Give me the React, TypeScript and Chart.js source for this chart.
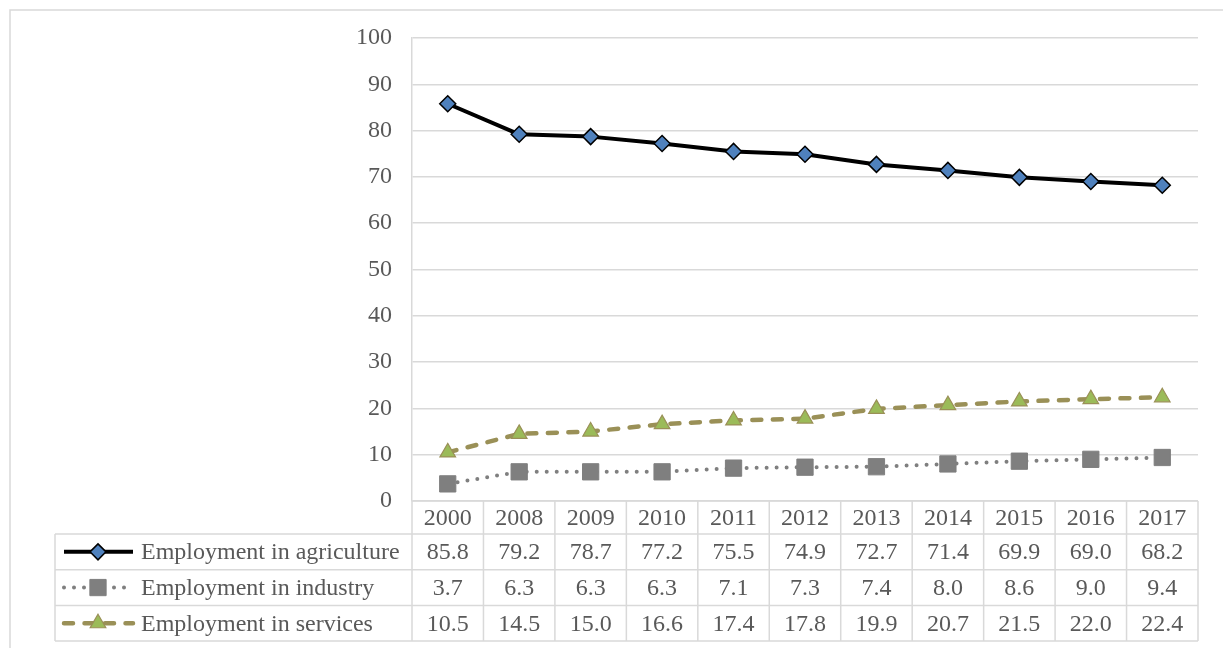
import React, { useEffect, useRef } from 'react';
import { Chart, registerables } from 'chart.js';

Chart.register(...registerables);

const years = ['2000', '2008', '2009', '2010', '2011', '2012', '2013', '2014', '2015', '2016', '2017'];
const agriculture = [85.8, 79.2, 78.7, 77.2, 75.5, 74.9, 72.7, 71.4, 69.9, 69.0, 68.2];
const industry = [3.7, 6.3, 6.3, 6.3, 7.1, 7.3, 7.4, 8.0, 8.6, 9.0, 9.4];
const services = [10.5, 14.5, 15.0, 16.6, 17.4, 17.8, 19.9, 20.7, 21.5, 22.0, 22.4];
const seriesNames = ['Employment in agriculture', 'Employment in industry', 'Employment in services'];
const yMin = 0;
const yMax = 100;
const yStep = 10;

const FONT_FAMILY = '"Liberation Serif", "Times New Roman", serif';
const FONT_SIZE = 24;
const TEXT_COLOR = '#595959';
const GRID_COLOR = '#D9D9D9';

function drawMarker(ctx: CanvasRenderingContext2D, style: string, x: number, y: number, r: number, fill: string, stroke: string, bw: number) {
  ctx.save();
  ctx.setLineDash([]);
  ctx.beginPath();
  if (style === 'rectRot') {
    ctx.moveTo(x, y - r);
    ctx.lineTo(x + r, y);
    ctx.lineTo(x, y + r);
    ctx.lineTo(x - r, y);
    ctx.closePath();
  } else if (style === 'rect') {
    const s = Math.SQRT1_2 * r;
    ctx.rect(x - s, y - s, 2 * s, 2 * s);
  } else if (style === 'triangle') {
    let rad = 0;
    ctx.moveTo(x + Math.sin(rad) * r, y - Math.cos(rad) * r);
    rad += (2 * Math.PI) / 3;
    ctx.lineTo(x + Math.sin(rad) * r, y - Math.cos(rad) * r);
    rad += (2 * Math.PI) / 3;
    ctx.lineTo(x + Math.sin(rad) * r, y - Math.cos(rad) * r);
    ctx.closePath();
  }
  ctx.fillStyle = fill;
  ctx.fill();
  ctx.lineWidth = bw;
  ctx.strokeStyle = stroke;
  ctx.stroke();
  ctx.restore();
}

const framePlugin = {
  id: 'frame',
  beforeDraw(chart: any) {
    const ctx = chart.ctx as CanvasRenderingContext2D;
    ctx.save();
    ctx.fillStyle = '#ffffff';
    ctx.fillRect(0, 0, chart.width, chart.height);
    ctx.strokeStyle = GRID_COLOR;
    ctx.lineWidth = 1.5;
    ctx.strokeRect(10, 10, chart.width + 20, chart.height + 20);
    ctx.restore();
  },
};

const tablePlugin = {
  id: 'dataTable',
  afterDraw(chart: any) {
    const ctx = chart.ctx as CanvasRenderingContext2D;
    const area = chart.chartArea;
    const xs = chart.scales.x;
    const n = years.length;
    const step = (area.right - area.left) / n;
    const top = area.bottom;
    const headerH = 33;
    const rowH = 35.7;
    const legendLeft = 55;
    const bottom = top + headerH + rowH * seriesNames.length;
    const rows: number[][] = [agriculture, industry, services];

    ctx.save();
    ctx.strokeStyle = GRID_COLOR;
    ctx.lineWidth = 1.5;
    ctx.setLineDash([]);
    ctx.beginPath();
    ctx.moveTo(area.left, top);
    ctx.lineTo(area.right, top);
    for (let r = 0; r <= seriesNames.length; r++) {
      const yy = top + headerH + r * rowH;
      ctx.moveTo(legendLeft, yy);
      ctx.lineTo(area.right, yy);
    }
    for (let i = 0; i <= n; i++) {
      const xx = area.left + i * step;
      ctx.moveTo(xx, top);
      ctx.lineTo(xx, bottom);
    }
    ctx.moveTo(legendLeft, top + headerH);
    ctx.lineTo(legendLeft, bottom);
    ctx.stroke();

    ctx.font = `${FONT_SIZE}px ${FONT_FAMILY}`;
    ctx.fillStyle = TEXT_COLOR;
    ctx.textAlign = 'center';
    ctx.textBaseline = 'middle';
    for (let i = 0; i < n; i++) {
      const cx = xs.getPixelForValue(i);
      ctx.fillText(years[i], cx, top + headerH / 2 + 1);
      rows.forEach((vals, r) => {
        ctx.fillText(vals[i].toFixed(1), cx, top + headerH + r * rowH + rowH / 2 + 1);
      });
    }

    chart.data.datasets.forEach((ds: any, r: number) => {
      const cy = top + headerH + r * rowH + rowH / 2;
      ctx.save();
      ctx.strokeStyle = ds.borderColor;
      ctx.lineWidth = ds.borderWidth;
      ctx.lineCap = ds.borderCapStyle || 'butt';
      ctx.setLineDash(ds.borderDash || []);
      ctx.beginPath();
      ctx.moveTo(64, cy);
      ctx.lineTo(133, cy);
      ctx.stroke();
      ctx.restore();
      drawMarker(ctx, ds.pointStyle, 98, cy, ds.pointRadius, ds.pointBackgroundColor, ds.pointBorderColor, ds.pointBorderWidth);
      ctx.fillStyle = TEXT_COLOR;
      ctx.textAlign = 'left';
      ctx.fillText(seriesNames[r], 141, cy + 1);
    });
    ctx.restore();
  },
};

export default function App() {
  const canvasRef = useRef<HTMLCanvasElement | null>(null);

  useEffect(() => {
    document.body.style.margin = '0';
    const canvas = canvasRef.current;
    if (!canvas) return;
    const chart = new Chart(canvas, {
      type: 'line',
      data: {
        labels: years,
        datasets: [
          {
            label: seriesNames[0],
            data: agriculture,
            borderColor: '#000000',
            borderWidth: 4,
            borderJoinStyle: 'round',
            pointStyle: 'rectRot',
            pointRadius: 8,
            pointBackgroundColor: '#4F81BD',
            pointBorderColor: '#000000',
            pointBorderWidth: 1.5,
            tension: 0,
          } as any,
          {
            label: seriesNames[1],
            data: industry,
            borderColor: '#7F7F7F',
            borderWidth: 4,
            borderDash: [0, 10],
            borderCapStyle: 'round',
            pointStyle: 'rect',
            pointRadius: 11.5,
            pointBackgroundColor: '#7F7F7F',
            pointBorderColor: '#7F7F7F',
            pointBorderWidth: 1,
            tension: 0,
          } as any,
          {
            label: seriesNames[2],
            data: services,
            borderColor: '#9A9057',
            borderWidth: 4.5,
            borderDash: [9, 11.5],
            borderCapStyle: 'round',
            pointStyle: 'triangle',
            pointRadius: 9,
            pointBackgroundColor: '#9BBB59',
            pointBorderColor: '#9A9057',
            pointBorderWidth: 1.2,
            tension: 0,
          } as any,
        ],
      },
      options: {
        responsive: false,
        animation: false,
        devicePixelRatio: 1,
        layout: { padding: { left: 0, top: 38, right: 25, bottom: 147 } },
        plugins: {
          legend: { display: false },
          title: { display: false },
          tooltip: { enabled: false },
        },
        scales: {
          x: {
            type: 'category',
            display: false,
            offset: true,
          },
          y: {
            min: yMin,
            max: yMax,
            ticks: {
              stepSize: yStep,
              padding: 20,
              color: TEXT_COLOR,
              font: { family: FONT_FAMILY, size: FONT_SIZE },
            },
            grid: { color: GRID_COLOR, lineWidth: 1.5, drawTicks: false },
            border: { display: true, color: GRID_COLOR, width: 1.5 },
            afterFit(scale: any) {
              scale.width = 412;
            },
          },
        },
      },
      plugins: [framePlugin, tablePlugin],
    });
    return () => chart.destroy();
  }, []);

  return (
    <div style={{ position: 'absolute', left: 0, top: 0, width: 1223, height: 648 }}>
      <canvas ref={canvasRef} width={1223} height={648} style={{ display: 'block' }} />
    </div>
  );
}
